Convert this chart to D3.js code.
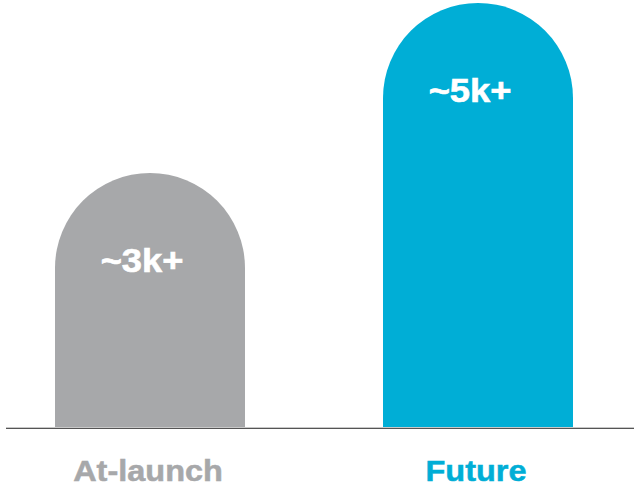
<!DOCTYPE html>
<html>
<head>
<meta charset="utf-8">
<script src="https://cdn.jsdelivr.net/npm/d3@7"></script>
<style>
  html, body { margin: 0; padding: 0; background: #fff; }
  svg { display: block; }
  text { font-family: "Liberation Sans", Arial, Helvetica, sans-serif; font-weight: bold; }
</style>
</head>
<body>
<svg id="chart" width="634" height="487"></svg>
<script>
// Capacity estimate per stage (thousands)
const categories = ["At-launch", "Future"];
const values = [3, 5];
const valueLabels = ["~3k+", "~5k+"];
const colors = ["#a7a8aa", "#00aed6"];

const svg = d3.select("#chart");
const baseY = 428;

const x = d3.scaleBand()
  .domain(categories)
  .range([55, 573])
  .paddingInner(138 / 328)
  .paddingOuter(0);
const bw = x.bandwidth();

const y = d3.scaleLinear().domain([0, 5]).range([baseY, 3]);

// Bar with a semicircular cap
function capsule(x0, w, yTop, yBase) {
  const r = w / 2;
  const p = d3.path();
  p.moveTo(x0, yBase);
  p.lineTo(x0, yTop + r);
  p.arc(x0 + r, yTop + r, r, Math.PI, 0);
  p.lineTo(x0 + w, yBase);
  p.closePath();
  return p.toString();
}

const rows = categories.map((c, i) => ({ c, v: values[i], label: valueLabels[i], color: colors[i] }));

svg.selectAll("path.bar")
  .data(rows)
  .join("path")
  .attr("class", "bar")
  .attr("d", d => capsule(x(d.c), bw, y(d.v), baseY))
  .attr("fill", d => d.color);

// Baseline
svg.append("line")
  .attr("x1", 6).attr("x2", 634)
  .attr("y1", baseY - 0.5).attr("y2", baseY - 0.5)
  .attr("stroke", "#c8c8c8").attr("stroke-width", 1);
svg.append("line")
  .attr("x1", 6).attr("x2", 634)
  .attr("y1", baseY + 0.5).attr("y2", baseY + 0.5)
  .attr("stroke", "#555555").attr("stroke-width", 1.2);

// Value labels inside the caps
svg.selectAll("text.value")
  .data(rows)
  .join("text")
  .attr("class", "value")
  .attr("transform", d => `translate(${x(d.c) + bw / 2 - 8},${y(d.v) + 99}) scale(1.1,1)`)
  .attr("text-anchor", "middle")
  .attr("font-size", 33)
  .attr("fill", "#ffffff")
  .attr("stroke", "#ffffff")
  .attr("stroke-width", 0.6)
  .text(d => d.label);

// Category labels
svg.selectAll("text.cat")
  .data(rows)
  .join("text")
  .attr("class", "cat")
  .attr("transform", d => `translate(${x(d.c) + bw / 2 - 2},481) scale(1.12,1)`)
  .attr("text-anchor", "middle")
  .attr("font-size", 29)
  .attr("fill", d => d.color)
  .attr("stroke", d => d.color)
  .attr("stroke-width", 0.5)
  .text(d => d.c);
</script>
</body>
</html>
